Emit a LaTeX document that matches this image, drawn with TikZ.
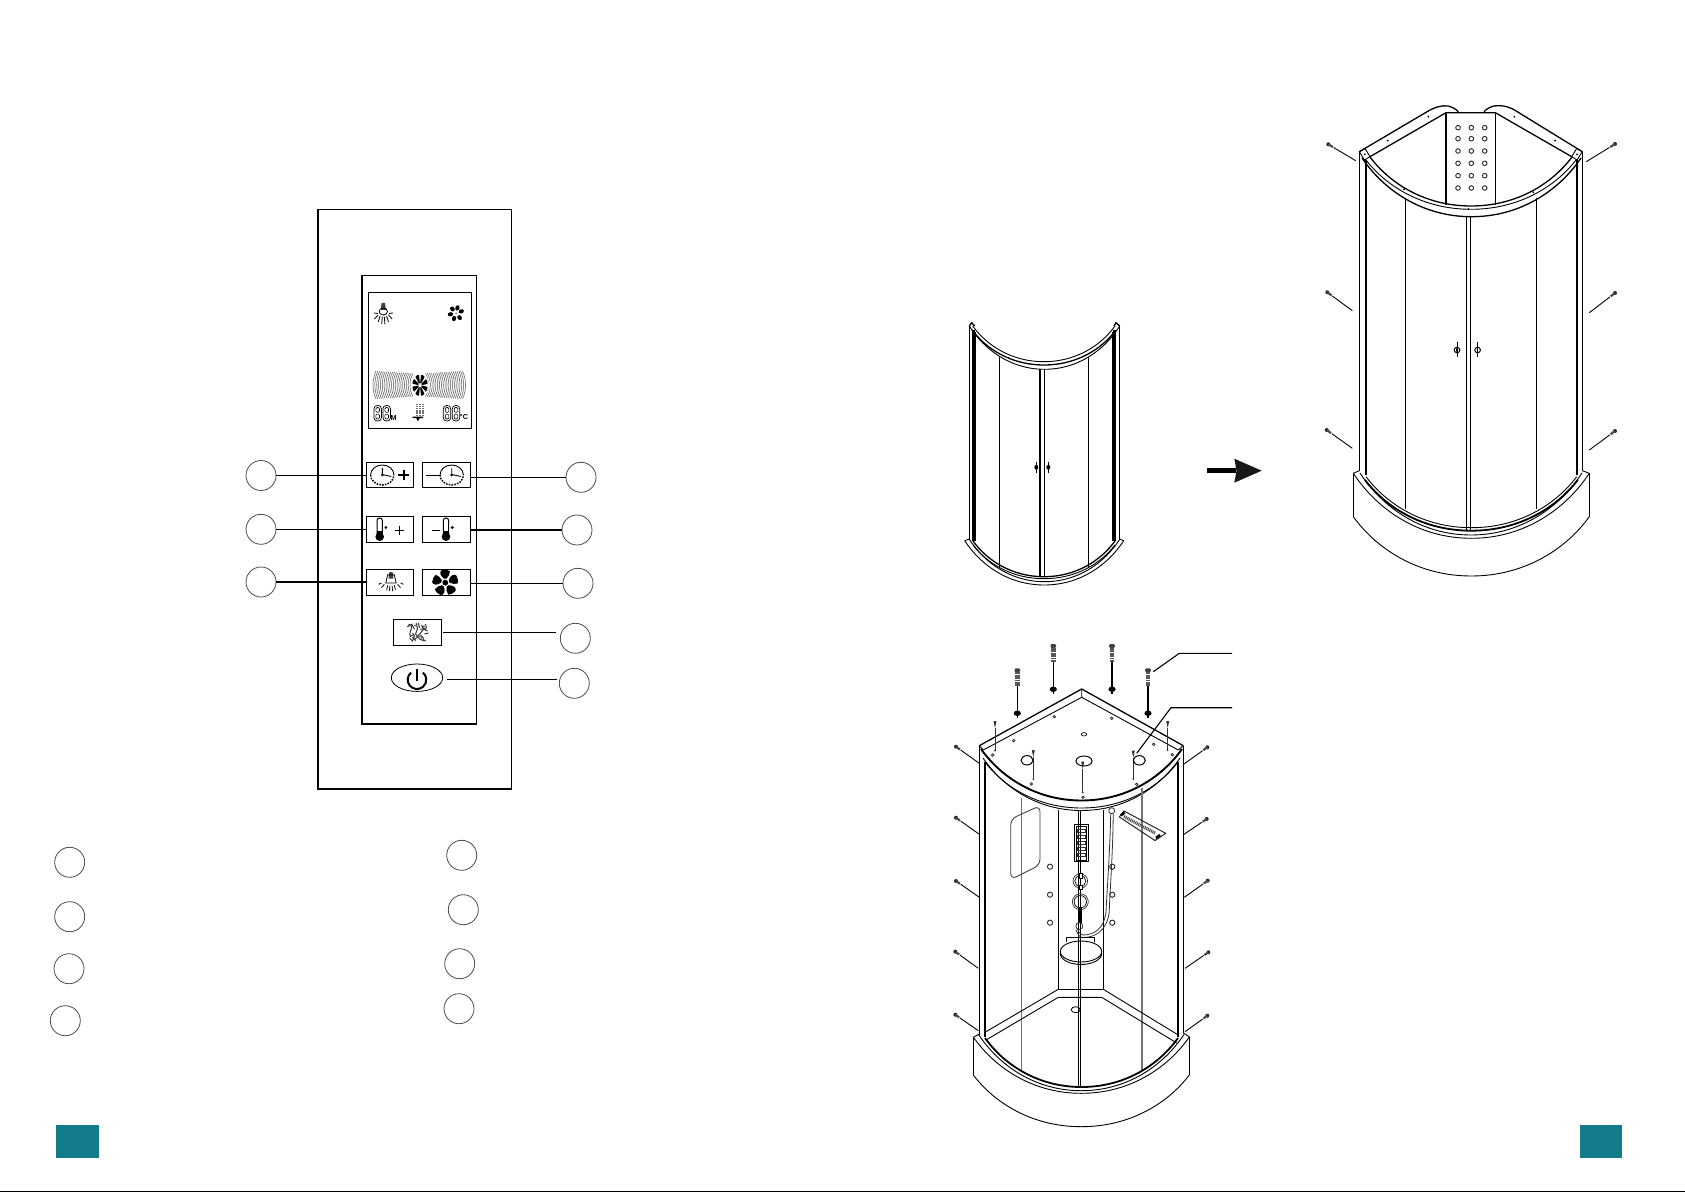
\documentclass[tikz,border=0pt]{standalone}
\usepackage{fontspec}
\setmainfont{Liberation Sans}
\usetikzlibrary{calc,shapes.geometric}
\definecolor{teal1}{HTML}{137B89}
\tikzset{
  thinl/.style={line width=.45pt,black},
  medl/.style={line width=.65pt,black},
  heavyl/.style={line width=1.1pt,black},
  grayl/.style={line width=.5pt,black!55},
  numcirc/.style={circle,draw=black!70,line width=.4pt,minimum size=15pt,inner sep=0pt},
  btn/.style={rectangle,draw=black,line width=.65pt,inner sep=0pt},
  leader/.style={line width=.6pt,black},
  lcdtext/.style={font=\fontsize{3.6pt}{4pt}\selectfont\bfseries,inner sep=0pt}
}
% bow: symmetric curve from left end to right end, lowest point y1
\newcommand{\Bow}[5][]{\draw[#1] ({#2},{#4}) .. controls ({#2+.1*(#3-#2)},{#4+.55*(#5-#4)}) and ({#2+.275*(#3-#2)},{#5}) .. ({.5*(#2+#3)},{#5}) .. controls ({#3-.275*(#3-#2)},{#5}) and ({#3-.1*(#3-#2)},{#4+.55*(#5-#4)}) .. ({#3},{#4});}
% side screw: head x,y ; line end x,y
\newcommand{\SideScrew}[4]{
  \draw[thinl] ($(#1,#2)!.2!(#3,#4)$) -- (#3,#4);
  \fill[black!85] (#1,#2) circle (2);
  \draw[line width=1.1pt,black!70] (#1,#2) -- ($(#1,#2)!.17!(#3,#4)$);
}
\newcommand{\LongScrew}[3]{% x, ytop, washer y
  \fill[black!75,rounded corners=.6] (#1-2.8,#2) rectangle (#1+2.8,#2+4);
  \draw[line width=2.3pt,black!65,dash pattern=on .9pt off .3pt] (#1,#2+4) -- (#1,#2+18);
  \draw[medl] (#1,#2+18) -- (#1,#3+5);
  \fill[black] (#1,#3) ellipse (3.6 and 2.7);
}
\newcommand{\SmallScrew}[3]{% x, ytop, ybot
  \draw[line width=.4pt,black!80] (#1,#2+7) -- (#1,#3);
  \fill[black!80] (#1-1.5,#2) -- (#1+1.5,#2) -- (#1,#2+7) -- cycle;
  \fill[black!85] (#1,#3) circle (1);
}
\newcommand{\Hole}[2]{\draw[line width=.35pt,black!85] (#1,#2) circle (1.3);}
\newcommand{\Jet}[2]{\draw[line width=.45pt,black!85] (#1,#2) circle (2.6);}
\newcommand{\Seg}[2]{% 7-segment 8
  \draw[line width=.35pt,black,rounded corners=1.6] (#1,#2) rectangle (#1+7.4,#2+15.5);
  \draw[line width=.3pt,black,rounded corners=.6] (#1+1.9,#2+2) rectangle (#1+5.5,#2+6.9);
  \draw[line width=.3pt,black,rounded corners=.6] (#1+1.9,#2+8.6) rectangle (#1+5.5,#2+13.5);
}
\newcommand{\Clock}[2]{
  \draw[line width=.45pt,black] (#1-11.7,#2) arc[start angle=180,end angle=360,x radius=11.7,y radius=10];
  \draw[line width=.75pt,black,dash pattern=on .8pt off .6pt] (#1-11.7,#2) arc[start angle=180,end angle=0,x radius=11.7,y radius=10];
  \draw[line width=.45pt,black] (#1,#2-7) -- (#1,#2-.5) -- (#1+9,#2+1.5);
  \draw[line width=.35pt,black,fill=white] (#1,#2) circle (1);
}
\newcommand{\Thermo}[3]{% x, top, bulb y
  \draw[line width=.5pt,black,rounded corners=1.2] (#1-2.6,#3) -- (#1-2.6,#2) -- (#1+2.6,#2) -- (#1+2.6,#3);
  \fill[black] (#1-2.6,#3-6) rectangle (#1+2.6,#3);
  \fill[black] (#1,#3) circle (4.3);
  \draw[line width=.4pt,black] (#1+6.2,#2+9.5) circle (1);
}
\newcommand{\Lamp}[2]{% top centre
  \begin{scope}[shift={(#1,#2)}]
    \fill[black!75] (-1.7,0) -- (1.7,0) -- (2.6,7) -- (-2.6,7) -- cycle;
    \draw[line width=.4pt,black] (0,8.5) ellipse (4.2 and 3.4);
    \draw[line width=.4pt,black] (-9.5,10) -- (-5.5,10.5) (5.5,10.5) -- (9.5,10);
    \draw[line width=.4pt,black] (-3.2,13) -- (-5.2,19) (-1,13.6) -- (-1.6,21) (1,13.6) -- (1.6,21) (3.2,13) -- (5.2,19) (-5.2,12) -- (-8.8,16) (5.2,12) -- (8.8,16);
  \end{scope}
}
\begin{document}
\begin{tikzpicture}[x=.5pt,y=-.5pt]
\useasboundingbox (0,0) rectangle (1685,1192);
\fill[white] (0,0) rectangle (1685,1192);
\fill[black] (0,1190.5) rectangle (1685,1192);

%%%%%%% control panel
\draw[medl] (318,209.5) rectangle (511.5,789);
\draw[medl] (362,275.3) rectangle (476.7,724);
\draw[medl] (368.3,292.3) rectangle (471.7,428.3);

% LCD
\Lamp{383.3}{303}
\begin{scope}[shift={(456,313.3)}]
  \foreach \a in {20,75,130,190,250,310}{\fill[black,rotate=\a] (5.6,0) ellipse (2.7 and 2.1);}
  \fill[black] (0,0) circle (.7);
\end{scope}
\foreach \i in {0,...,20}{
  \pgfmathsetmacro{\xa}{373+1.85*\i}
  \pgfmathsetmacro{\hh}{14-.12*\i}
  \draw[line width=.26pt,black!65] ({\xa+3},{385-\hh}) .. controls ({\xa-1},{385-.4*\hh}) and ({\xa-1},{385+.4*\hh}) .. ({\xa+3},{385+\hh});
  \pgfmathsetmacro{\xb}{465.5-1.85*\i}
  \draw[line width=.26pt,black!65] ({\xb-3},{385-\hh}) .. controls ({\xb+1},{385-.4*\hh}) and ({\xb+1},{385+.4*\hh}) .. ({\xb-3},{385+\hh});
}
\begin{scope}[shift={(420,385.3)}]
  \fill[white] (0,0) ellipse (9 and 12.5);
  \foreach \a in {22,67,112,157,202,247,292,337}{
    \begin{scope}[yscale=1.4,rotate=\a]
      \fill[black] (1.6,-.5) -- (7.2,-1.9) .. controls (8,-1) and (8,1) .. (7.2,1.9) -- (1.6,.5) -- cycle;
    \end{scope}}
\end{scope}
\Seg{374}{405.5}\Seg{383}{405.5}
\Seg{443.3}{405.5}\Seg{452.3}{405.5}
\node[lcdtext] (lcdm) at (393.6,418) {M};
\node[lcdtext] (lcdc) at (464,417.5) {°C};
\foreach \r in {0,...,5}{\foreach \q in {0,1,2}{
  \fill[black!55] ({415.7+3.1*\q},{403.5+2.2*\r}) rectangle ++(2,1.4);}}
\fill[black] (412.5,416.5) -- (423,416.5) -- (423,418) -- (419.5,418.3) -- (418,421.5) -- (416.5,418.3) -- (412.5,418) -- cycle;

% buttons
\node[btn,minimum width=23.5pt,minimum height=12.5pt] (b1) at (389.8,474.8) {};
\node[btn,minimum width=24.2pt,minimum height=12.5pt] (b2) at (446.5,474.8) {};
\node[btn,minimum width=23.5pt,minimum height=13pt] (b3) at (389.8,529.3) {};
\node[btn,minimum width=24.2pt,minimum height=13pt] (b4) at (446.5,529.3) {};
\node[btn,minimum width=23.5pt,minimum height=13pt] (b5) at (389.8,582.3) {};
\node[btn,minimum width=24.2pt,minimum height=13pt] (b6) at (446.5,582.3) {};
\node[btn,minimum width=24pt,minimum height=13pt] (b7) at (417.3,632.3) {};
\node[ellipse,draw=black,line width=.4pt,minimum width=25.7pt,minimum height=13.7pt,inner sep=0pt] (b8) at (417,677.7) {};

\Clock{382.3}{475}
\draw[line width=1pt,black] (398.4,475) -- (409,475) (403.7,469.7) -- (403.7,480.3);
\draw[line width=.5pt,black] (426.3,475) -- (440,475);
\Clock{451.7}{475}
\Thermo{379.7}{518}{536.7}
\draw[line width=.45pt,black] (394.6,530.3) -- (404,530.3) (399.3,525.6) -- (399.3,535);
\draw[line width=.5pt,black] (432.3,530.3) -- (440,530.3);
\Thermo{446}{518}{536.7}
\begin{scope}[shift={(391,572)},scale=.95]
  \fill[black!75] (-1.7,0) -- (1.7,0) -- (2.6,7) -- (-2.6,7) -- cycle;
  \draw[line width=.4pt,black] (-5.5,11.5) -- (-3.5,3) -- (3.5,3) -- (5.5,11.5) -- cycle;
  \draw[line width=.4pt,black] (-3.5,14) -- (-4.6,19) (-1.2,14.5) -- (-1.6,20) (1.2,14.5) -- (1.6,20) (3.5,14) -- (4.6,19) (-7,13) -- (-10,16.5) (7,13) -- (10,16.5) (-10,11.5) -- (-13,13) (10,11.5) -- (13,13);
\end{scope}
\begin{scope}[shift={(445.3,582.7)}]
  \fill[black] (0,0) circle (2.9);
  \foreach \a in {18,90,162,234,306}{
    \begin{scope}[rotate=\a]
      \fill[black] (4,-1.2) .. controls (7,-5.5) and (11,-6) .. (12.7,-3.5) .. controls (13.4,-.5) and (13,3) .. (11.5,4.6) .. controls (9,5) and (6,3) .. (4,1.2) -- cycle;
    \end{scope}}
\end{scope}
% steam icon
\begin{scope}[shift={(417.5,632)}]
  \draw[line width=.5pt,black!80] (-10,-5) .. controls (-8,-9) and (-6,-8) .. (-6,-5) .. controls (-6,-1) and (-9,1) .. (-7,5) (-6,-8) -- (-3,-3) (-8,6) -- (-5,9) -- (-3,4) -- (-5,1)
    (-1,-8) -- (0,-3) -- (-2,2) -- (2,7) -- (7,9) (1,-9) -- (2,-4) (-3,8) -- (3,1) -- (7,-4) (4,-7) -- (6,-3) -- (10,-1) (9,-6) -- (8,-2) (7,2) -- (11,1) (3,3) -- (6,6);
  \draw[line width=.8pt,black!75,dash pattern=on .6pt off .5pt] (-9,-6) -- (-5,-8) (-6,3) -- (-2,9) (3,-2) -- (9,-8) (2,4) -- (8,9) (-3,-6) -- (0,-9);
\end{scope}
% power icon
\draw[line width=1pt,black] (411,672.6) arc[start angle=230,delta angle=-280,radius=9.3];
\draw[line width=1.1pt,black] (417,669.3) -- (417,681);

% numbered circles and leaders
\node[numcirc] (c1) at (261,475.5) {};
\node[numcirc] (c2) at (261,529.3) {};
\node[numcirc] (c3) at (261,582) {};
\node[numcirc] (c4) at (581,477.3) {};
\node[numcirc] (c5) at (577,530) {};
\node[numcirc] (c6) at (578,583.3) {};
\node[numcirc] (c7) at (575.3,638.3) {};
\node[numcirc] (c8) at (574.3,683.3) {};
\draw[leader] (c1.east) -- (c1 -| b1.west);
\draw[leader] (c2.east) -- (c2 -| b3.west);
\draw[leader] (c3.east) -- (c3 -| b5.west);
\draw[leader] (b2.east |- c4) -- (c4.west);
\draw[leader] (b4.east |- c5) -- (c5.west);
\draw[leader] (b6.east |- c6) -- (c6.west);
\draw[leader,shorten >=2.2pt,shorten <=.7pt] (b7.east) -- (b7.east -| c7.west);
\draw[leader,shorten >=1.2pt,shorten <=2pt] (b8.east |- 0,679.3) -- (c8.west |- 0,679.3);

\node[numcirc] (n1) at (69.7,862.3) {};
\node[numcirc] (n2) at (69.7,916.7) {};
\node[numcirc] (n3) at (69,968.7) {};
\node[numcirc] (n4) at (65.3,1020.7) {};
\node[numcirc] (n5) at (461.7,855.3) {};
\node[numcirc] (n6) at (463.3,909.7) {};
\node[numcirc] (n7) at (459.7,963.7) {};
\node[numcirc] (n8) at (459,1008.7) {};

% page squares
\fill[teal1] (56,1125) rectangle (99,1158);
\fill[teal1] (1580,1125) rectangle (1622,1158);

%%%%%%% door assembly alone
\draw[medl] (969.3,326) -- (971.7,322.7) -- (974.5,326);
\draw[medl] (1114,326) -- (1116,322.7) -- (1119.7,326);
\draw[thinl] (969.3,326) -- (969.3,540);
\draw[line width=1.1pt] (973.5,330) -- (973.5,541);
\draw[thinl] (975.5,332) -- (975.5,541);
\draw[thinl] (1119.7,326) -- (1119.7,540);
\draw[line width=1.1pt] (1114.5,330) -- (1114.5,541);
\draw[thinl] (1112.5,332) -- (1112.5,541);
\Bow[thinl]{972.7}{1115}{326}{361.7}
\Bow[medl]{972}{1116}{330}{365}
\Bow[thinl]{969.3}{1119.7}{326}{369.3}
\draw[medl] (1040,369.3) -- (1040,576.7);
\draw[medl] (1044.3,369.3) -- (1044.3,576.7);
\draw[medl] (999.3,356.7) -- (999.3,566.7);
\draw[medl] (1088.7,356.7) -- (1088.7,566.7);
\foreach \hx in {1036.3,1048.3}{
  \draw[line width=.5pt] (\hx,461.5) -- (\hx,473);
  \fill[black] (\hx,467.3) ellipse (2 and 2.4);
}
\Bow[medl]{973}{1115}{541}{576.7}
\Bow[thinl]{973}{1115}{545}{578.7}
\Bow[thinl]{969.3}{1119.7}{539.3}{581.7}
\Bow[thinl]{964.7}{1123.7}{540.7}{585}
\draw[thinl] (964.7,540.7) -- (969.3,539) (1123.7,540.7) -- (1119.7,539);

%%%%%%% arrow
\fill[black] (1206.7,468.4) rectangle (1236,473);
\fill[black!90] (1234.3,458.7) -- (1261.7,470.7) -- (1234.3,482.7) -- (1236.5,470.7) -- cycle;

%%%%%%% top right shower
\draw[medl] (1359.3,151.7) -- (1428.3,111) .. controls (1434,107.5) and (1442,105) .. (1448,106) .. controls (1452,107) and (1456,109) .. (1458.3,111.7);
\draw[medl] (1582.3,151.7) -- (1513.3,109.3) .. controls (1507,106) and (1500,105) .. (1494,106) .. controls (1490,107) and (1486,109) .. (1484,111.7);
\draw[medl] (1370,156.7) -- (1446,112.7) -- (1495.3,112.7) -- (1571.7,156.7);
\draw[medl] (1446,112.7) -- (1446,205);
\draw[medl] (1495.3,112.7) -- (1495.3,205);
\foreach \hy in {127.7,138.7,151,163.3,175.7,188}{\foreach \hx in {1458,1471.3,1484.7}{\draw[line width=.45pt,black!85] (\hx,\hy) circle (2.3);}}
\draw[thinl] (1359.3,151.7) -- (1365,148.5) -- (1370,156.7) -- (1364.5,160) -- cycle;
\draw[thinl] (1582.3,151.7) -- (1576.7,148.5) -- (1571.7,156.7) -- (1577,160) -- cycle;
\foreach \dx/\dy in {1387.7/140.7,1428.3/116.7,1514.3/116.7,1555/140.7,1364.8/154.3,1577/154.3,1404/189.3,1468.3/209,1533.3/192.3}{\fill[black] (\dx,\dy) circle (1);}
\draw[thinl] (1359.3,151.7) -- (1359.3,470.7);
\draw[line width=1.2pt] (1366,160) -- (1366,475);
\draw[thinl] (1582.3,151.7) -- (1582.3,470.7);
\draw[line width=1.2pt] (1576.7,160) -- (1576.7,475);
\Bow[medl]{1370}{1572}{157}{206}
\Bow[thinl]{1366}{1576}{160}{209.3}
\Bow[medl]{1362}{1581}{158}{216.7}
\draw[medl] (1466.3,216.7) -- (1466.3,530);
\draw[medl] (1470.3,216.7) -- (1470.3,530);
\draw[medl] (1405.7,198.3) -- (1405.7,509.3);
\draw[medl] (1536.7,198.3) -- (1536.7,509.3);
\foreach \hx in {1457,1477.6}{
  \draw[line width=.45pt] (\hx,342.5) -- (\hx,357.5);
  \draw[line width=.5pt] (\hx,350) circle (2.8);
}
\fill[black] (1457,350) ellipse (.9 and 2.4);
\Bow[thinl]{1366}{1576.7}{476.7}{527.7}
\Bow[line width=.9pt]{1365}{1577.7}{480}{530.7}
\Bow[thinl]{1360}{1582}{473}{535}
\Bow[thinl]{1353.3}{1589.3}{473.3}{538.3}
\draw[thinl] (1353.3,473.3) -- (1359.3,470.7) (1582.3,470.7) -- (1589.3,473.3);
\draw[thinl] (1353.3,473.3) -- (1353.3,516.7) (1589.3,473.3) -- (1589.3,516.7);
\Bow[thinl]{1353.3}{1589.3}{516.7}{576}
\SideScrew{1328.3}{144.3}{1355.7}{160.7}
\SideScrew{1327.3}{292.3}{1352.3}{310.7}
\SideScrew{1326.7}{430}{1352.3}{448.3}
\SideScrew{1615}{144}{1586.3}{161.7}
\SideScrew{1615}{293}{1589.3}{312.7}
\SideScrew{1615}{431}{1589.3}{450}

%%%%%%% bottom shower
\draw[medl,line join=round] (979.3,745.7) -- (1081.7,689) -- (1183.3,745.7);
\draw[thinl] (983.3,750) -- (1081.7,697.3) -- (1178.3,750);
\draw[thinl] (979.3,745.7) -- (983.3,750) (1183.3,745.7) -- (1178.3,750) (1081.7,689) -- (1081.7,697.3);
\Bow[line width=.95pt]{981}{1182}{749}{800.5}
\Bow[thinl]{985}{1178}{762}{808}
\Bow[thinl]{983}{1180}{758}{810.5}
\draw[medl] (979.3,745.7) -- (979.3,1035);
\draw[line width=1.1pt] (985,762) -- (985,1037);
\draw[medl] (1183.3,745.7) -- (1183.3,1033);
\draw[line width=1.1pt] (1178.3,762) -- (1178.3,1037);
\draw[medl] (1078.3,810) -- (1078.3,1086.7);
\draw[medl] (1080.6,810) -- (1080.6,1086.7);
\draw[grayl] (1021.7,798) -- (1021.7,1070);
\draw[grayl,line width=.6pt] (1142,788) -- (1142,1070);
\draw[medl] (1058.3,810) -- (1058.3,989.3) -- (1103.3,989.3) -- (1103.3,810);
\draw[thinl] (1058.3,989.3) -- (986,1031.7);
\draw[thinl] (1103.3,989.3) -- (1178.3,1035);
\draw[thinl] (986,1040) -- (1058.3,997.3) -- (1101.7,997.3) -- (1176.7,1043);
\draw[line width=.4pt] (1075.7,1009.7) ellipse (4.5 and 3);
% base
\draw[thinl] (973.3,1037.3) -- (979.3,1034) (1183.3,1033) -- (1189.3,1036.7);
\draw[thinl] (973.3,1037.3) -- (973.3,1075) (1189.3,1036.7) -- (1189.3,1075);
\Bow[thinl]{973.3}{1189.3}{1075}{1126.7}
\Bow[thinl]{973.3}{1189.3}{1037}{1093.3}
\Bow[thinl]{978.5}{1184}{1034.5}{1090.7}
\Bow[line width=.9pt]{985}{1178}{1038}{1087}
% window
\draw[line width=.45pt,black!75,rounded corners=3] (1040,805.7) -- (1010.7,819) -- (1010.7,879.5) -- (1040,865) -- cycle;
% control panel of shower
\draw[thinl] (1074,824.3) rectangle (1088.3,861.7);
\draw[line width=.4pt] (1076.4,826.7) rectangle (1086,860);
\foreach \py in {829,835,841,847,853}{\draw[line width=.5pt,black!80] (1077,\py) rectangle (1085.5,\py+3.4);}
\draw[medl] (1078.3,810) -- (1078.3,824.3) (1080.6,810) -- (1080.6,824.3);
% rings and shower bar
\foreach \ry/\rr in {881/7.3,901.7/8}{
  \draw[line width=.35pt,black!80] (1080.3,\ry) circle (\rr);
  \draw[line width=.4pt,black!90] (1080.3,\ry) circle ({\rr-1.8});
}
\draw[line width=.5pt,fill=white] (1079,873.5) rectangle (1082,878) (1079,885) rectangle (1082,889.5);
\draw[line width=1.5pt,black] (1080.3,906.7) -- (1080.3,923.3);
\draw[line width=.4pt,black!80] (1079.3,926) circle (3.5);
\draw[line width=.4pt,black!80] (1111.7,810.7) circle (3);
\draw[line width=.4pt,black!80] (1110.7,814) .. controls (1110,850) and (1107,890) .. (1106,912) .. controls (1104,928) and (1095,935) .. (1083,935) .. controls (1081,935) and (1079,933) .. (1077.5,929);
\draw[line width=.4pt,black!80] (1113.2,814) .. controls (1113,850) and (1110,890) .. (1109.2,912) .. controls (1107,930) and (1096,937.5) .. (1083,937.5) .. controls (1080,937.5) and (1078,935) .. (1076,930);
\foreach \jy in {866.7,894.7,922.7}{\Jet{1050}{\jy}\Jet{1112.3}{\jy}}
% seat
\draw[thinl,fill=white] (1066.7,942) -- (1066.7,937.3) -- (1094.7,937.3) -- (1094.7,942);
\draw[thinl] (1081,953.5) ellipse (20.7 and 11);
\draw[line width=.45pt,fill=white] (1081,951.5) ellipse (20.7 and 10.5);
\draw[medl] (1078.3,936) -- (1078.3,975) (1080.6,936) -- (1080.6,975);
% shelf
\draw[line width=.5pt,black!85] (1119.3,817) -- (1124,811) -- (1165.7,833.3) -- (1155,840.5) -- cycle;
\draw[line width=1.6pt,black!70,dash pattern=on .5pt off .4pt] (1124,816.5) -- (1155,833);
\draw[line width=1.3pt,black] (1121,815.5) -- (1124.5,812.5) (1156,838) -- (1160,835);
% screws
\LongScrew{1017.3}{668.3}{713.3}
\LongScrew{1053.3}{644}{689.3}
\LongScrew{1112}{644}{689.3}
\LongScrew{1148}{668.3}{713.3}
\SmallScrew{995}{721}{750.7}
\SmallScrew{1033.3}{750}{779}
\SmallScrew{1082.7}{761.7}{792.3}
\SmallScrew{1133.3}{750.7}{779}
\SmallScrew{1167.7}{721}{750}
\foreach \hx/\hy in {992.7/755,1013.7/740.7,1054.3/716.7,1111.7/718.3,1153.7/744.3,1172.3/754.7,1031.3/784,1083/797.3,1136.7/784.3}{\Hole{\hx}{\hy}}
\draw[line width=.35pt] (1084,734.3) ellipse (2.7 and 1.7);
\draw[line width=.5pt] (1027,760.3) ellipse (6 and 4.7);
\draw[line width=.5pt] (1084,761) ellipse (8 and 5);
\draw[line width=.5pt] (1139.3,760.3) ellipse (6 and 4.7);
\SideScrew{956}{746.7}{979.3}{763.3}
\SideScrew{956}{817.7}{979.3}{834.3}
\SideScrew{956}{881}{979.3}{897.3}
\SideScrew{955.3}{951.7}{978.3}{968.3}
\SideScrew{955.3}{1014.7}{978.3}{1030.7}
\SideScrew{1207.3}{747.3}{1184}{764}
\SideScrew{1206.7}{819}{1184}{834.3}
\SideScrew{1207.7}{880.7}{1184.3}{897.3}
\SideScrew{1208.3}{952.3}{1185}{968.3}
\SideScrew{1207.3}{1015.7}{1185}{1031.7}
% callout lines
\coordinate (callA) at (1153.3,671.7);
\coordinate (callAe) at (1232,653.3);
\coordinate (callB) at (1136.7,753.3);
\coordinate (callBe) at (1232,707.7);
\draw[line width=.55pt] (callA) -- (1179.3,653.3) -- (callAe);
\draw[line width=.55pt] (callB) -- (1171,707.7) -- (callBe);
\end{tikzpicture}
\end{document}
